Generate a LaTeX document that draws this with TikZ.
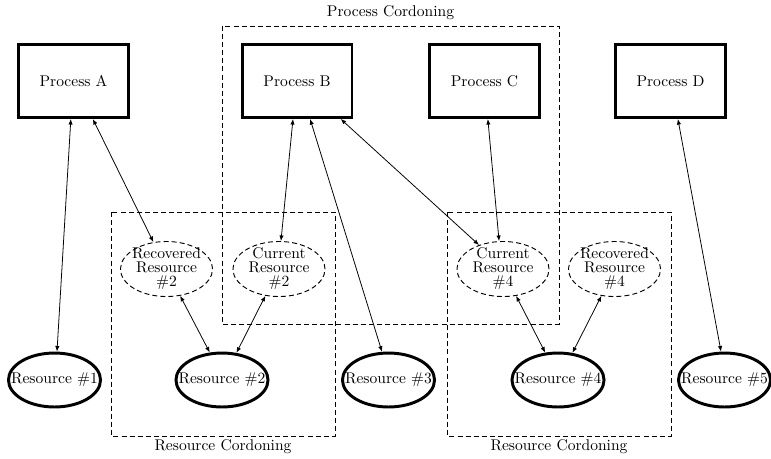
\documentclass[tikz,border=0pt]{standalone}
\usetikzlibrary{arrows.meta,shapes.geometric}
\begin{document}
\begin{tikzpicture}[x=0.643pt,y=-0.643pt,
  proc/.style={draw,line width=1.9pt,minimum width=70.7pt,minimum height=46.9pt,inner sep=0pt,fill=white},
  res/.style={draw,ellipse,line width=1.9pt,minimum width=59.2pt,minimum height=34.7pt,inner sep=0pt,fill=white},
  copyres/.style={draw,ellipse,line width=0.6pt,dash pattern=on 3.2pt off 2pt,minimum width=59.2pt,minimum height=35.4pt,inner sep=0pt,fill=white},
  cordon/.style={draw,line width=0.6pt,dash pattern=on 3.2pt off 2pt},
  link/.style={line width=0.5pt,{Latex[length=3.6pt,width=2.8pt]}-{Latex[length=3.6pt,width=2.8pt]}},
  txt/.style={font=\fontsize{10}{9}\selectfont,align=center,inner sep=0pt}
]
\useasboundingbox (0,0) rectangle (771,458);

% cordoning regions
\draw[cordon] (222,26) rectangle (559,324);
\node[txt] (pclab) at (390.5,13) {Process Cordoning};
\draw[cordon] (111,212) rectangle (335,436);
\node[txt] (rclabL) at (223,447) {Resource Cordoning};
\draw[cordon] (447,212) rectangle (671,436);
\node[txt] (rclabR) at (559,447) {Resource Cordoning};

% processes
\node[proc] (pa) at (73.5,81) {Process A};
\node[proc] (pb) at (297,81) {Process B};
\node[proc] (pc) at (484.5,81) {Process C};
\node[proc] (pd) at (670.5,81) {Process D};

% resource copies
\node[copyres,label={[txt]center:Recovered\\Resource\\\#2}] (rec2) at (166.5,269) {};
\node[copyres,label={[txt]center:Current\\Resource\\\#2}] (cur2) at (279,269) {};
\node[copyres,label={[txt]center:Current\\Resource\\\#4}] (cur4) at (503,269) {};
\node[copyres,label={[txt]center:Recovered\\Resource\\\#4}] (rec4) at (614.5,269) {};

% resources
\node[res,label={[txt]center:Resource \#1}] (r1) at (54.5,380) {};
\node[res,label={[txt]center:Resource \#2}] (r2) at (222,380) {};
\node[res,label={[txt]center:Resource \#3}] (r3) at (388.5,380) {};
\node[res,label={[txt]center:Resource \#4}] (r4) at (558,380) {};
\node[res,label={[txt]center:Resource \#5}] (r5) at (724.5,380) {};

% links
\draw[link] (pa.-94) -- (r1.85);
\draw[link] (pa.-63) -- (rec2.116);
\draw[link] (pb.-96) -- (cur2.86);
\draw[link] (pb.-71) -- (r3.103);
\draw[link] (pb.-41.5) -- (cur4.135);
\draw[link] (pc.-85) -- (cur4.98);
\draw[link] (pd.-79) -- (r5.97);
\draw[link] (rec2.-63.4) -- (r2.114);
\draw[link] (cur2.-117.4) -- (r2.62.6);
\draw[link] (cur4.-64.3) -- (r4.115.7);
\draw[link] (rec4.-116.6) -- (r4.62.6);
\end{tikzpicture}
\end{document}
